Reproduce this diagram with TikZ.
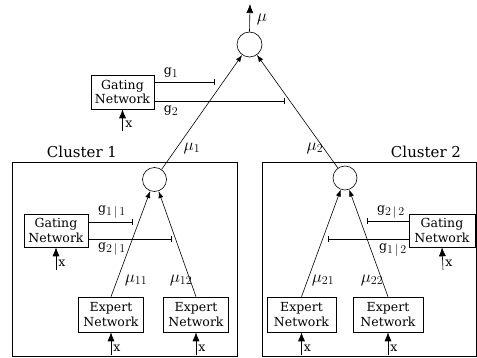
\documentclass[tikz,border=0pt]{standalone}
\usepackage{fontspec}
\setmainfont{DejaVu Serif}
\DeclareMathSizes{12.5}{16}{12.5}{9}
\usetikzlibrary{arrows.meta}
\begin{document}
\begin{tikzpicture}[x=1pt,y=-1pt,
  every node/.style={font=\fontsize{12.5}{14.6}\selectfont},
  box/.style={draw, line width=0.6pt, align=center, inner sep=0pt, minimum height=34pt},
  sumnode/.style={draw, circle, minimum size=25pt, inner sep=0pt, line width=0.6pt},
  clusterbox/.style={draw, line width=0.6pt, inner sep=0pt},
  conn/.style={line width=0.6pt, -{Latex[length=7pt,width=5pt]}},
  xarrow/.style={line width=0.6pt, -{Latex[length=9pt,width=7pt]}},
  gate/.style={line width=0.6pt, -{Bar[width=6pt]}},
  lbl/.style={inner sep=0pt},
  cllbl/.style={inner sep=0pt, font=\fontsize{15}{17}\selectfont},
]
\useasboundingbox (0,0) rectangle (477,358);

% top level
\node[sumnode] (t) at (249.5,44.5) {};
\coordinate (out) at (250,4);
\draw[xarrow] (t.north) -- (out);
\node[lbl] (mu) at (262,19) {$\mu$};

\node[box, minimum width=63pt] (g0) at (122.5,92) {Gating\\Network};
\coordinate (x0) at (122.5,131);
\draw[xarrow] (x0) -- (g0.south);
\node[lbl] (x0l) at (129,124) {x};
\coordinate (g1end) at (215,82);
\coordinate (g2end) at (285,101);
\draw[gate] (g0.east |- g1end) -- (g1end);
\draw[gate] (g0.east |- g2end) -- (g2end);
\node[lbl] (g1l) at (171,73) {g$_{1}$};
\node[lbl] (g2l) at (171,111) {g$_{2}$};

% clusters
\node[clusterbox, minimum width=225pt, minimum height=194pt] (cl1) at (124.3,259) {};
\node[clusterbox, minimum width=214.5pt, minimum height=194pt] (cl2) at (369.25,259) {};
\node[cllbl] (cl1l) at (82,152) {Cluster 1};
\node[cllbl] (cl2l) at (426,152) {Cluster 2};

\node[sumnode, minimum size=24pt] (c1) at (154.5,179.5) {};
\node[sumnode, minimum size=24pt] (c2) at (345,178) {};
\draw[conn] (c1) -- (t);
\draw[conn] (c2) -- (t);
\node[lbl] (mu1) at (192,148) {$\mu_{1}$};
\node[lbl] (mu2) at (315,148) {$\mu_{2}$};

% cluster 1 content
\node[box, minimum width=64pt, minimum height=33pt] (ga1) at (56,230.5) {Gating\\Network};
\coordinate (xa1) at (56,270);
\draw[xarrow] (xa1) -- (ga1.south);
\node[lbl] (xa1l) at (62,263) {x};
\coordinate (g11end) at (133,222);
\coordinate (g21end) at (172,239);
\draw[gate] (ga1.east |- g11end) -- (g11end);
\draw[gate] (ga1.east |- g21end) -- (g21end);
\node[lbl] (g11l) at (112,212) {g$_{1\,|\,1}$};
\node[lbl] (g21l) at (112,249) {g$_{2\,|\,1}$};

\node[box, minimum width=65pt, minimum height=35pt] (e11) at (111,314.5) {Expert\\Network};
\node[box, minimum width=65pt, minimum height=35pt] (e12) at (196,314.5) {Expert\\Network};
\coordinate (xe11) at (111,355);
\coordinate (xe12) at (196,355);
\draw[xarrow] (xe11) -- (e11.south);
\draw[xarrow] (xe12) -- (e12.south);
\node[lbl] (xe11l) at (117,348) {x};
\node[lbl] (xe12l) at (202,348) {x};
\draw[conn] (e11.north) -- (c1);
\draw[conn] (e12.north) -- (c1);
\node[lbl] (mu11) at (136,280) {$\mu_{11}$};
\node[lbl] (mu12) at (181,280) {$\mu_{12}$};

% cluster 2 content
\node[box, minimum width=66pt, minimum height=33pt] (ga2) at (442,230.5) {Gating\\Network};
\coordinate (xa2) at (443,270);
\draw[xarrow] (xa2) -- (ga2.south);
\node[lbl] (xa2l) at (449,263) {x};
\coordinate (g22end) at (367,221);
\coordinate (g12end) at (328,239);
\draw[gate] (ga2.west |- g22end) -- (g22end);
\draw[gate] (ga2.west |- g12end) -- (g12end);
\node[lbl] (g22l) at (391,212) {g$_{2\,|\,2}$};
\node[lbl] (g12l) at (393,250) {g$_{1\,|\,2}$};

\node[box, minimum width=69pt, minimum height=35pt] (e21) at (301.5,314.5) {Expert\\Network};
\node[box, minimum width=70pt, minimum height=35pt] (e22) at (388,314.5) {Expert\\Network};
\coordinate (xe21) at (301.5,355);
\coordinate (xe22) at (388,355);
\draw[xarrow] (xe21) -- (e21.south);
\draw[xarrow] (xe22) -- (e22.south);
\node[lbl] (xe21l) at (307.5,348) {x};
\node[lbl] (xe22l) at (394,348) {x};
\draw[conn] (e21.north) -- (c2);
\draw[conn] (e22.north) -- (c2);
\node[lbl] (mu21) at (323,280) {$\mu_{21}$};
\node[lbl] (mu22) at (372,280) {$\mu_{22}$};
\end{tikzpicture}
\end{document}
